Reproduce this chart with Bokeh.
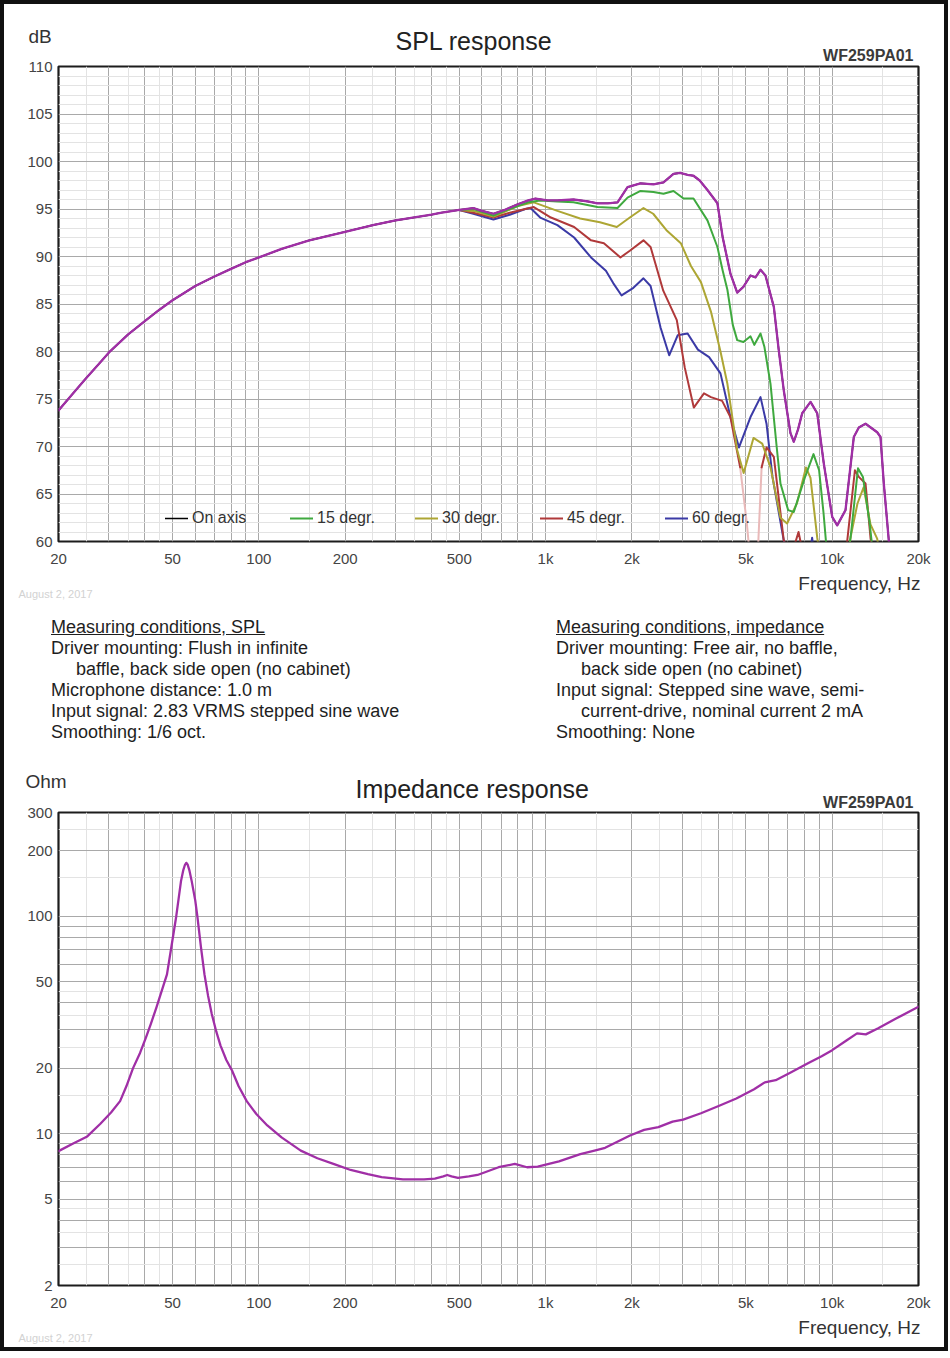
from bokeh.plotting import figure
from bokeh.models import (Range1d, FixedTicker, Grid, Legend, LegendItem, Title,
                          CustomJSTickFormatter, Div)
from bokeh.layouts import column
from bokeh.embed import file_html
from bokeh.resources import INLINE

FONT = "Liberation Sans"

# ---------------- data: SPL response (dB) ----------------
on_freq = [20, 22.5, 25, 27.5, 30, 35, 40, 45, 50, 60, 70, 80, 90, 100, 120, 150, 200, 250, 300,
           400, 430, 500, 560, 600, 658, 720, 800, 870, 922, 1016, 1100, 1252, 1400, 1517, 1650,
           1783, 1932, 2144, 2380, 2579, 2795, 2950, 3128, 3282, 3450, 3671, 3977, 4150, 4415,
           4662, 4900, 5188, 5400, 5622, 5850, 6257, 6512, 6778, 7152, 7345, 7600, 7858, 8402,
           8866, 9348, 10000, 10410, 11127, 11896, 12384, 13070, 14352, 14740, 15136, 15756, 16300]
on_db = [73.8, 75.6, 77.2, 78.6, 79.9, 81.8, 83.2, 84.4, 85.4, 86.9, 87.9, 88.7, 89.4, 89.9, 90.8,
         91.7, 92.6, 93.3, 93.8, 94.4, 94.6, 94.9, 95.1, 94.8, 94.5, 94.9, 95.5, 95.9, 96.1, 95.9,
         95.9, 96.0, 95.8, 95.6, 95.6, 95.7, 97.3, 97.7, 97.6, 97.8, 98.7, 98.8, 98.6, 98.5, 98.0,
         97.0, 95.6, 92.0, 88.2, 86.2, 86.8, 88.0, 87.8, 88.6, 88.0, 84.7, 80.1, 75.9, 71.4, 70.5,
         71.8, 73.5, 74.7, 73.5, 68.2, 62.6, 61.7, 63.3, 71.0, 72.0, 72.4, 71.5, 71.0, 66.1, 60.1,
         56.0]

d15_freq = [500, 560, 658, 720, 800, 870, 958, 1100, 1252, 1517, 1783, 1932, 2144, 2380, 2579,
            2795, 3030, 3282, 3671, 3977, 4150, 4309, 4500, 4662, 4900, 5188, 5350, 5622, 5800,
            6092, 6400, 6600, 7020, 7345, 8020, 8605, 9000, 9327, 9700, 11000, 11600, 12300,
            12800, 13500, 14200]
d15_db = [94.9, 95.0, 94.3, 94.8, 95.3, 95.7, 95.9, 95.8, 95.7, 95.2, 95.1, 96.2, 96.9, 96.8, 96.6,
          96.9, 96.1, 96.1, 93.8, 91.0, 88.5, 86.5, 82.8, 81.2, 81.0, 81.6, 80.7, 81.9, 80.5,
          76.6, 70.0, 66.1, 63.3, 63.1, 66.7, 69.2, 67.5, 63.0, 57.0, 56.0, 60.5, 67.7,
          66.8, 62.0, 56.0]

d30_freq = [500, 560, 658, 720, 800, 910, 1100, 1320, 1548, 1772, 1968, 2196, 2374, 2653, 2964,
            3215, 3484, 3775, 4076, 4309, 4662, 4910, 5314, 5700, 6092, 6600, 6960, 7530, 8100,
            8400, 8866, 9300, 11000, 11600, 12250, 12870, 13600, 14350, 15000]
d30_db = [94.9, 94.8, 94.2, 94.7, 95.3, 95.7, 94.8, 94.0, 93.6, 93.1, 94.1, 95.1, 94.5, 92.7, 91.4,
          89.0, 87.3, 84.2, 80.0, 76.6, 69.6, 67.2, 70.9, 70.3, 67.8, 62.5, 61.9, 64.0, 67.8,
          66.7, 60.4, 56.0, 56.0, 60.5, 64.0, 65.7, 61.8, 60.3, 57.0]

d45_freq = [500, 560, 658, 750, 850, 910, 1044, 1258, 1441, 1598, 1825, 1968, 2196, 2325, 2574,
            2870, 3060, 3290, 3570, 3775, 4130, 4415, 4775, 5038, 5250, 5450, 5672, 5900, 6257,
            6778, 7200, 7630, 8000, 11000, 12000, 12380, 13070, 13610, 14200]
d45_db = [94.9, 94.6, 94.1, 94.6, 95.0, 95.2, 94.1, 93.1, 91.7, 91.4, 89.9, 90.6, 91.7, 91.0, 86.4,
          83.3, 78.3, 74.1, 75.6, 75.2, 74.8, 73.1, 67.8, 61.9, 56.0, 56.0, 67.8, 69.9, 68.9,
          60.1, 58.5, 61.0, 58.0, 57.0, 67.5, 66.8, 66.1, 60.3, 57.0]
d45_faint_band = (4775, 5672)   # part of the 45 degr. curve drawn faded in the original

d60_freq = [500, 560, 658, 750, 850, 886, 958, 1100, 1258, 1441, 1624, 1722, 1842, 2025, 2196,
            2325, 2520, 2700, 2890, 3130, 3400, 3720, 4076, 4415, 4730, 5188, 5622, 5900, 6190,
            6778, 7200, 8300, 8510, 8700]
d60_db = [94.9, 94.5, 93.9, 94.4, 95.0, 95.1, 94.1, 93.3, 92.0, 89.9, 88.5, 87.2, 85.9, 86.7, 87.7,
          86.9, 82.5, 79.6, 81.7, 81.9, 80.2, 79.4, 77.7, 73.1, 69.9, 73.1, 75.2, 72.4, 66.8,
          60.1, 57.0, 58.0, 60.4, 58.0]

legend_labels = ["On axis", "15 degr.", "30 degr.", "45 degr.", "60 degr."]

# ---------------- data: impedance (Ohm) ----------------
imp_freq = [20, 22.5, 25.2, 28, 30.5, 32.8, 34.5, 36.4, 38.5, 40.3, 42, 43.9, 45.5, 47.8, 49.5,
            51.5, 53.5, 54.5, 55.2, 55.8, 56.4, 57.2, 58.3, 60.0, 61.0, 62.8, 64.6, 66.5, 68.5,
            71, 73.5, 77, 80.6, 85, 90.7, 98, 107, 120, 140, 160, 182, 209, 240, 268, 318, 377,
            411, 440, 454, 470, 495, 540, 579, 686, 781, 862, 939, 1114, 1322, 1482, 1614, 1971,
            2208, 2475, 2775, 3020, 3485, 4016, 4630, 5340, 5820, 6350, 7110, 8200, 9185, 10000,
            11210, 12210, 13100, 14470, 16700, 20000]
imp_ohm = [8.3, 9.0, 9.7, 11.1, 12.5, 14.1, 16.5, 20.0, 23.5, 27.5, 32.0, 38.0, 44.0, 54.0, 72.0,
           100.0, 145.0, 163.0, 172.0, 176.0, 173.0, 163.0, 145.0, 118.0, 100.0, 72.0, 54.0, 43.0,
           35.5, 29.5, 25.4, 21.8, 19.5, 16.5, 14.1, 12.3, 10.9, 9.6, 8.35, 7.7, 7.25, 6.8, 6.5,
           6.3, 6.15, 6.15, 6.2, 6.35, 6.45, 6.35, 6.25, 6.35, 6.45, 7.0, 7.25, 7.0, 7.05, 7.45,
           8.05, 8.35, 8.6, 9.8, 10.4, 10.7, 11.35, 11.6, 12.4, 13.4, 14.5, 16.0, 17.2, 17.6, 19.0,
           21.0, 22.7, 24.2, 26.8, 28.9, 28.6, 30.5, 33.8, 38.3]

# ---------------- tick / grid definitions ----------------
x_tick_values = [20, 50, 100, 200, 500, 1000, 2000, 5000, 10000, 20000]
spl_tick_values = [60, 65, 70, 75, 80, 85, 90, 95, 100, 105, 110]
imp_tick_values = [2, 5, 10, 20, 50, 100, 200, 300]

decades = [1, 10, 100, 1000, 10000]
x_grid_major = [m * d for d in decades for m in range(1, 10) if 20 <= m * d <= 20000]
x_grid_minor = [m * d for d in decades for m in (1.5, 2.5, 3.5, 4.5) if 20 <= m * d <= 20000]
spl_grid_major = list(range(60, 111, 5))
spl_grid_minor = [v for v in range(60, 111) if v % 5]
imp_grid_major = [m * d for d in (1, 10, 100) for m in range(1, 10) if 2 <= m * d <= 300]
imp_grid_minor = [m * d for d in (1, 10, 100) for m in (1.5, 2.5, 3.5, 4.5) if 2 <= m * d <= 300]

# ---------------- styling ----------------
C_PURPLE = "#a02fa6"
C_GREEN = "#3fa93f"
C_OLIVE = "#ada634"
C_RED = "#b0393a"
C_BLUE = "#3b3aa6"
GRID_DARK = "#a9a9a9"
GRID_LIGHT = "#e3e3e3"
TEXT_DARK = "#333333"

W = 940
FL, FR = 54, 26

fmt_freq = CustomJSTickFormatter(code="return tick >= 1000 ? (tick/1000) + 'k' : String(tick);")
fmt_plain = CustomJSTickFormatter(code="return String(tick);")


def base_figure(height, top, bottom, y_range, y_type, y_ticks, yg_major, yg_minor):
    p = figure(width=W, height=height, x_axis_type="log", y_axis_type=y_type,
               x_range=Range1d(20, 20000), y_range=y_range,
               output_backend="svg", toolbar_location=None,
               min_border_left=FL, min_border_right=FR,
               min_border_top=top, min_border_bottom=bottom)
    p.outline_line_color = "#1c1c1c"
    p.outline_line_width = 2.2
    p.grid.visible = False
    p.background_fill_color = "white"
    p.border_fill_color = "white"
    for ax in p.axis:
        ax.axis_line_color = None
        ax.major_tick_line_color = None
        ax.minor_tick_line_color = None
        ax.major_tick_out = 0
        ax.major_tick_in = 0
        ax.minor_tick_out = 0
        ax.minor_tick_in = 0
        ax.major_label_text_font = FONT
        ax.major_label_text_font_size = "15px"
        ax.major_label_text_color = "#444444"
    p.xaxis.ticker = FixedTicker(ticks=x_tick_values)
    p.xaxis.formatter = fmt_freq
    p.xaxis.major_label_standoff = 8
    p.yaxis.ticker = FixedTicker(ticks=y_ticks)
    p.yaxis.formatter = fmt_plain
    p.yaxis.major_label_standoff = 6

    gx = Grid(dimension=0, ticker=FixedTicker(ticks=x_grid_major, minor_ticks=x_grid_minor),
              grid_line_color=GRID_DARK, grid_line_width=1,
              minor_grid_line_color=GRID_LIGHT, minor_grid_line_width=1)
    gy = Grid(dimension=1, ticker=FixedTicker(ticks=yg_major, minor_ticks=yg_minor),
              grid_line_color=GRID_DARK, grid_line_width=1,
              minor_grid_line_color=GRID_LIGHT, minor_grid_line_width=1)
    p.add_layout(gx)
    p.add_layout(gy)
    return p


def add_text(p, side, text, size, align, offset, standoff, valign="bottom",
             color=TEXT_DARK, style="normal"):
    # side panels stack outward from the frame in the order they are added
    p.add_layout(Title(text=text, align=align, offset=offset, standoff=standoff,
                       vertical_align=valign, text_font=FONT, text_font_size=size,
                       text_font_style=style, text_color=color), side)


def curve(p, xs, ys, color, width=2.0):
    return p.line(xs, ys, line_color=color, line_width=width, line_join="round", line_cap="round")


# ---------------- SPL figure ----------------
H1 = 601
p1 = base_figure(H1, 62, 64, Range1d(60, 110), "linear", spl_tick_values,
                 spl_grid_major, spl_grid_minor)

r_on = curve(p1, on_freq, on_db, "black", 1.6)
r60 = curve(p1, d60_freq, d60_db, C_BLUE)

faint_lo, faint_hi = d45_faint_band
d45_solid = [v if not (faint_lo < f < faint_hi) else float("nan") for f, v in zip(d45_freq, d45_db)]
faint_f = [f for f in d45_freq if faint_lo <= f <= faint_hi]
faint_v = [v for f, v in zip(d45_freq, d45_db) if faint_lo <= f <= faint_hi]
curve(p1, faint_f, faint_v, "#e9b9b9")
r45 = curve(p1, d45_freq, d45_solid, C_RED)
r30 = curve(p1, d30_freq, d30_db, C_OLIVE)
r15 = curve(p1, d15_freq, d15_db, C_GREEN)
curve(p1, on_freq, on_db, C_PURPLE, 2.3)

legend = Legend(items=[LegendItem(label=lab, renderers=[r])
                       for lab, r in zip(legend_labels, [r_on, r15, r30, r45, r60])],
                orientation="horizontal", location=(102, 8),
                background_fill_alpha=0, border_line_alpha=0,
                glyph_width=23, glyph_height=20, label_standoff=4, label_width=88,
                label_height=20, spacing=10, padding=5, margin=0,
                label_text_font=FONT, label_text_font_size="16px", label_text_color=TEXT_DARK)
p1.add_layout(legend)

add_text(p1, "above", "WF259PA01", "16px", "right", 5, 6, color="#3a3a3a", style="bold")
add_text(p1, "above", "SPL response", "25px", "left", 337, -27, color="#222222")
add_text(p1, "above", "dB", "19px", "left", -30, -17)
add_text(p1, "below", "Frequency, Hz", "19px", "right", -2, 2)
add_text(p1, "below", "August 2, 2017", "11px", "left", -40, -13, valign="top", color="#d2d2d2")

# ---------------- measuring-conditions text ----------------
def line_div(txt, indent=False, underline=False):
    pad = "padding-left:25px;" if indent else ""
    body = f"<u>{txt}</u>" if underline else txt
    return f'<div style="{pad}white-space:nowrap;">{body}</div>'

left_col = "".join([
    line_div("Measuring conditions, SPL", underline=True),
    line_div("Driver mounting: Flush in infinite"),
    line_div("baffle, back side open (no cabinet)", indent=True),
    line_div("Microphone distance: 1.0 m"),
    line_div("Input signal: 2.83 VRMS stepped sine wave"),
    line_div("Smoothing: 1/6 oct."),
])
right_col = "".join([
    line_div("Measuring conditions, impedance", underline=True),
    line_div("Driver mounting: Free air, no baffle,"),
    line_div("back side open (no cabinet)", indent=True),
    line_div("Input signal: Stepped sine wave, semi-"),
    line_div("current-drive, nominal current 2 mA", indent=True),
    line_div("Smoothing: None"),
])
html = (f'<div style="display:flex;font-family:\'{FONT}\',Arial,sans-serif;font-size:18px;'
        f'line-height:21px;color:#1e1e1e;padding-top:12px;">'
        f'<div style="margin-left:47px;width:505px;">{left_col}</div>'
        f'<div>{right_col}</div></div>')
div = Div(text=html, width=W, height=155, margin=0)

# ---------------- impedance figure ----------------
H2 = 587
p2 = base_figure(H2, 52, 62, Range1d(2, 300), "log", imp_tick_values,
                 imp_grid_major, imp_grid_minor)
curve(p2, imp_freq, imp_ohm, C_PURPLE, 2.3)

add_text(p2, "above", "WF259PA01", "16px", "right", 5, 4, color="#3a3a3a", style="bold")
add_text(p2, "above", "Impedance response", "25px", "left", 297, -27, color="#222222")
add_text(p2, "above", "Ohm", "19px", "left", -33, -10)
add_text(p2, "below", "Frequency, Hz", "19px", "right", -2, 2)
add_text(p2, "below", "August 2, 2017", "11px", "left", -40, -13, valign="top", color="#d2d2d2")

page = column(p1, div, p2, spacing=0, styles={"border": "4px solid #111111", "background": "white"})

open("out.html", "w").write(file_html(page, INLINE))
